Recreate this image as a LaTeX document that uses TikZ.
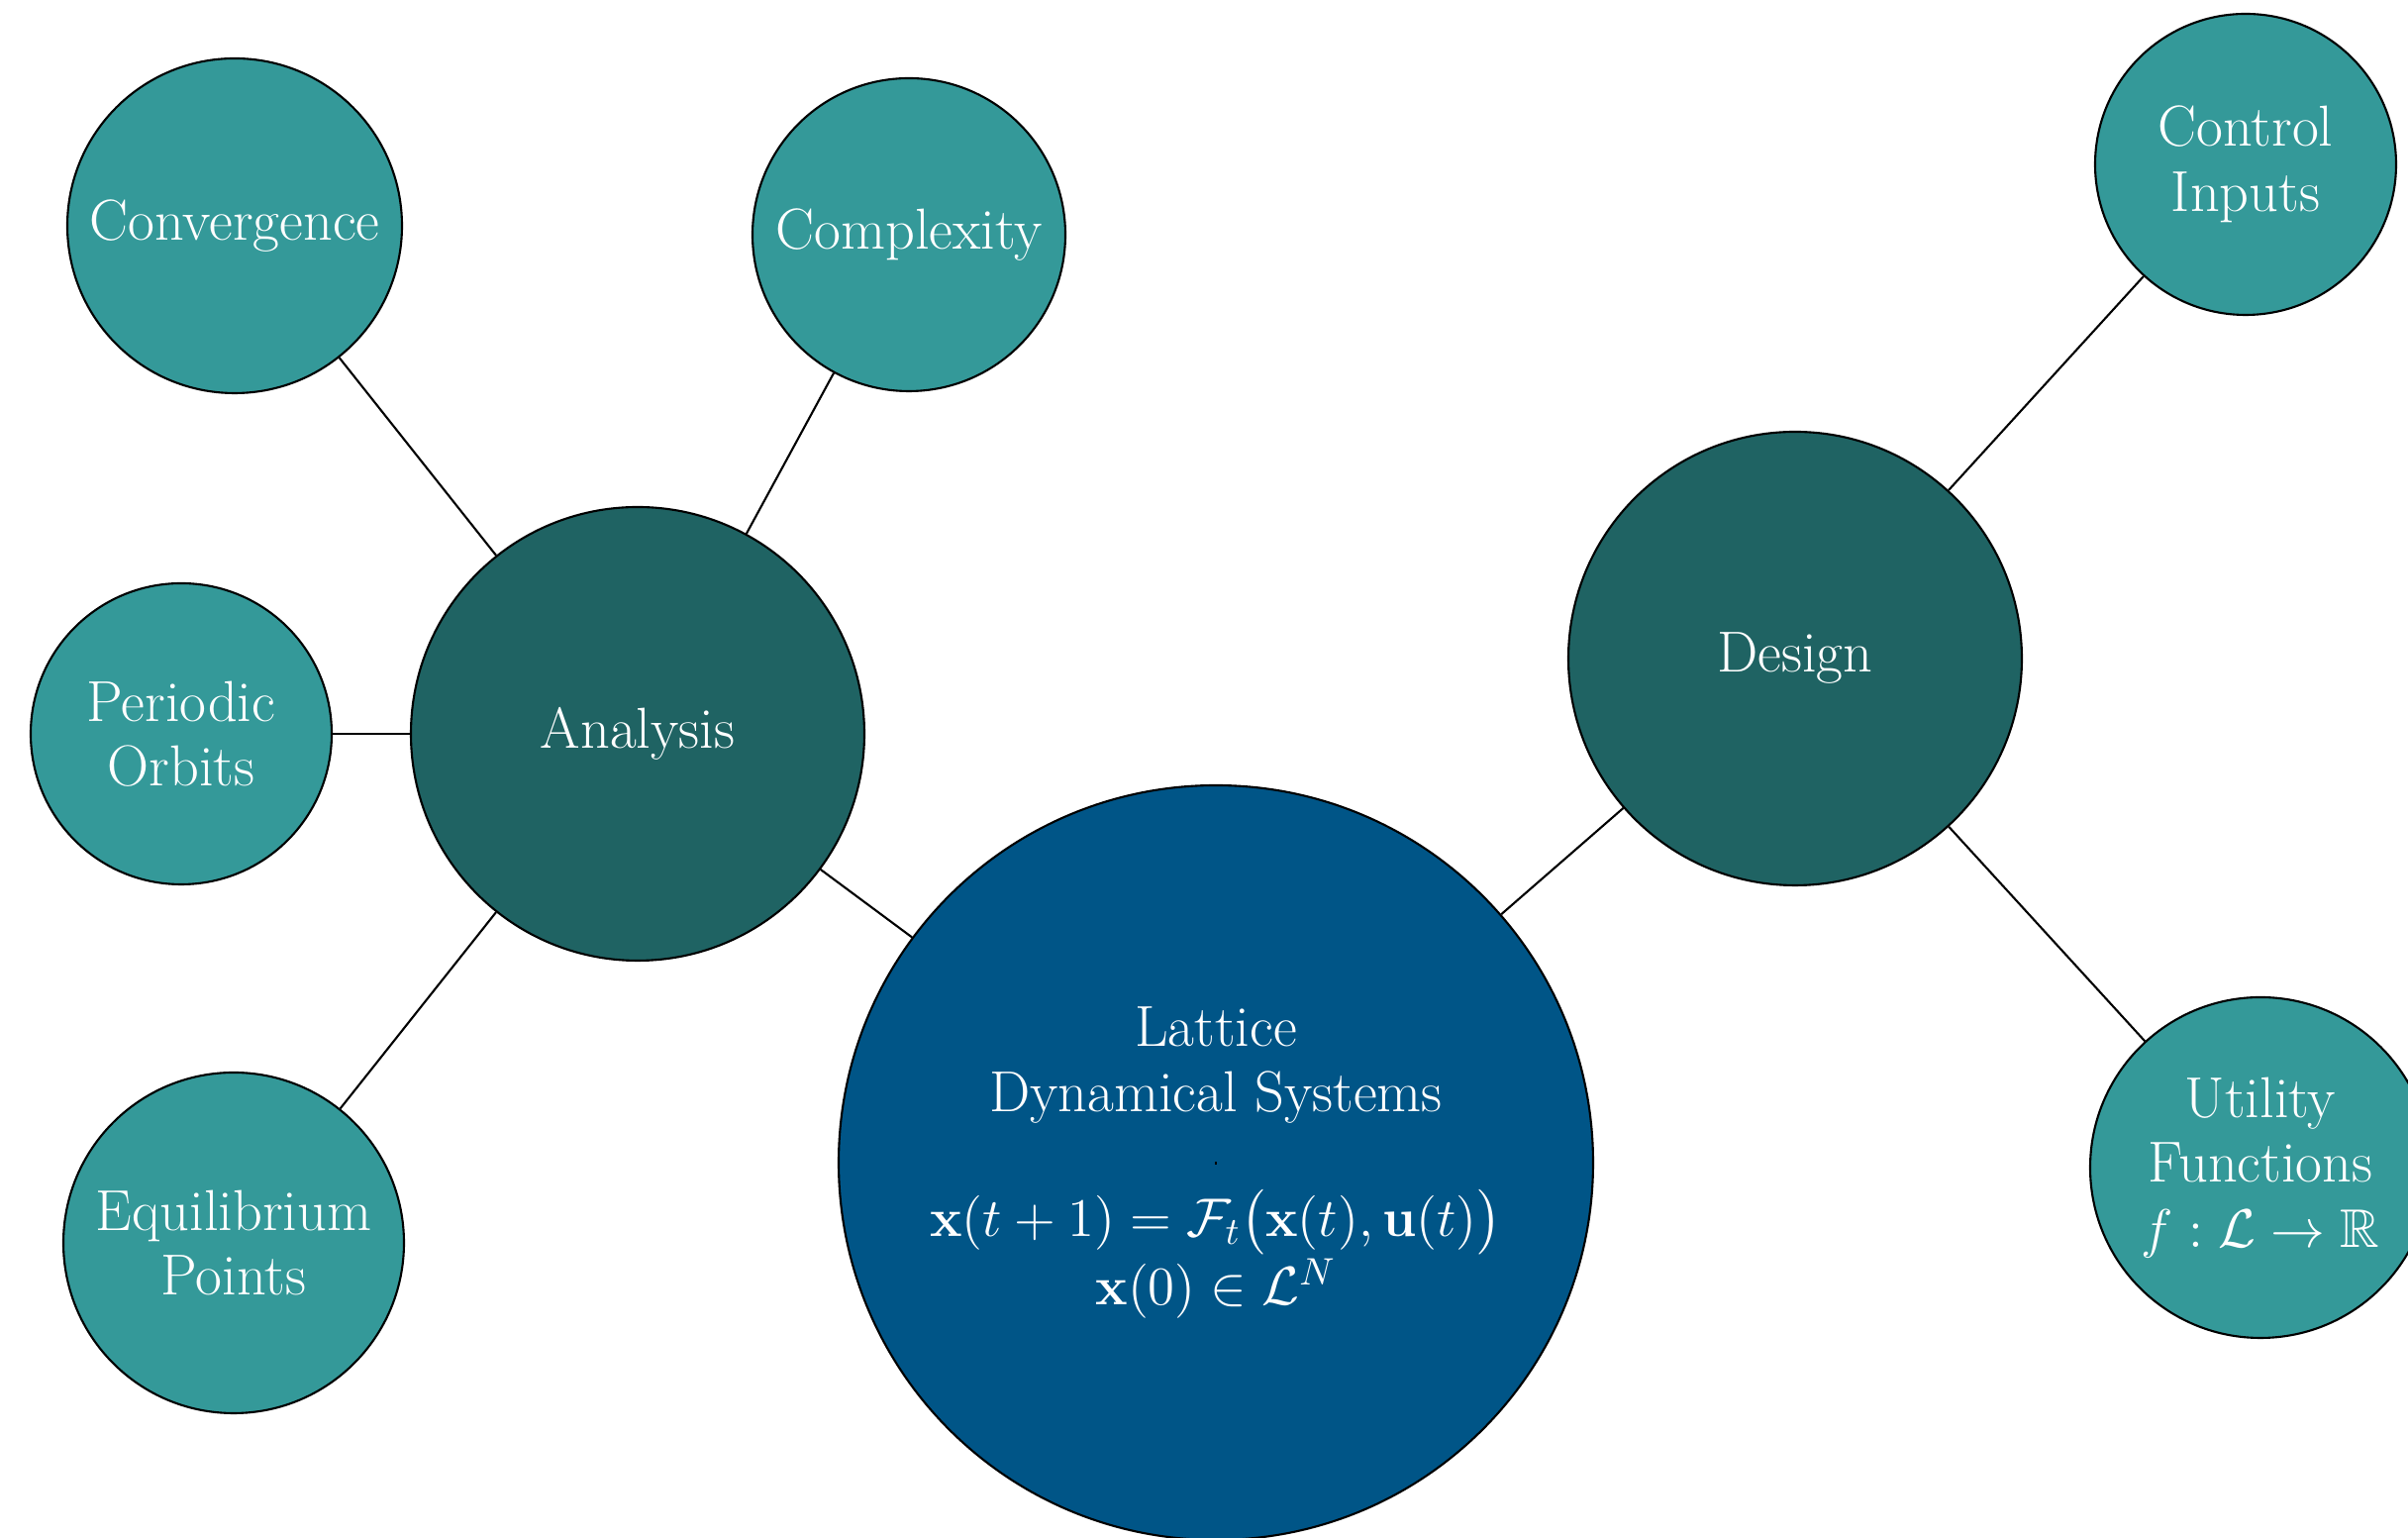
\RequirePackage{fix-cm}
\documentclass[tikz,border=0pt]{standalone}
\usepackage{amsmath,amssymb}
\DeclareMathSizes{16.6}{15.6}{11}{8}
\definecolor{leafteal}{RGB}{52,153,153}
\definecolor{hubteal}{RGB}{31,99,99}
\definecolor{rootblue}{RGB}{0,85,135}
\begin{document}
\begin{tikzpicture}[
  bubble/.style={circle, draw=black, line width=0.6pt, text=white, align=center,
    inner sep=0pt, font=\fontsize{16.6}{18.6}\selectfont},
  leaf/.style={bubble, fill=leafteal},
  hub/.style={bubble, fill=hubteal, minimum size=4.58cm},
  root/.style={bubble, fill=rootblue, minimum size=7.62cm},
  link/.style={draw=black, line width=0.6pt}
]
\useasboundingbox (0,0) rectangle (24.32,15.53);
\clip (0,0) rectangle (24.32,15.53);

% central concept
\node[root] (lds) at (12.28,3.79) {Lattice\\Dynamical Systems\\[-3.4pt]{\color{black}\rule{0.3pt}{0.8pt}}\\[2pt]
  $\mathbf{x}(t+1)=\mathcal{F}_t\big(\mathbf{x}(t),\mathbf{u}(t)\big)$\\
  $\mathbf{x}(0)\in\mathcal{L}^N$};

% main branches
\node[hub] (ana) at (6.44,8.12) {Analysis};
\node[hub] (des) at (18.13,8.88) {Design};

% analysis topics
\node[leaf, minimum size=3.38cm] (conv) at (2.37,13.25) {Convergence};
\node[leaf, minimum size=3.16cm] (cplx) at (9.18,13.16) {Complexity};
\node[leaf, minimum size=3.04cm] (per)  at (1.83,8.12) {Periodic\\Orbits};
\node[leaf, minimum size=3.44cm] (eq)   at (2.36,2.98) {Equilibrium\\Points};

% design topics
\node[leaf, minimum size=3.04cm] (ctrl) at (22.68,13.87) {Control\\Inputs};
\node[leaf, minimum size=3.44cm] (util) at (22.83,3.74) {Utility\\Functions\\$f:\mathcal{L}\to\mathbb{R}$};

% connectors
\draw[link] (ana) -- (lds);
\draw[link] (lds) -- (des);
\draw[link] (ana) -- (conv);
\draw[link] (ana) -- (cplx);
\draw[link] (ana) -- (per);
\draw[link] (ana) -- (eq);
\draw[link] (des) -- (ctrl);
\draw[link] (des) -- (util);
\end{tikzpicture}
\end{document}
